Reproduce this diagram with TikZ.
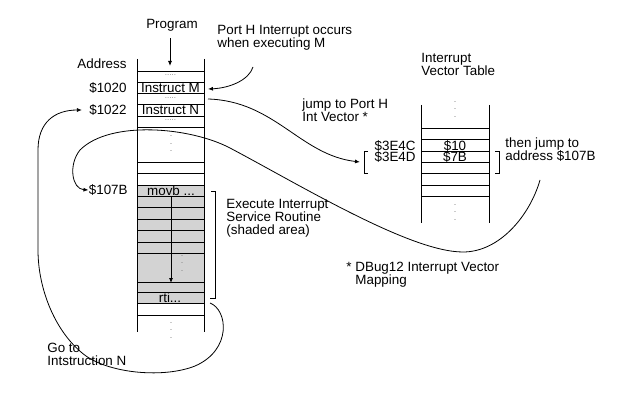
\documentclass[tikz,border=0pt]{standalone}
\usepackage{fontspec}
\setmainfont{Liberation Sans}
\usetikzlibrary{arrows.meta}
\definecolor{isrgray}{RGB}{211,211,211}

\begin{document}
\begin{tikzpicture}[x=1pt, y=-1pt, line width=0.8pt,
    txt/.style={font=\fontsize{13.4}{13}\selectfont, inner sep=0pt, align=left},
    pair/.style={font=\fontsize{13.4}{11}\selectfont, inner sep=0pt},
    rowdots/.style={font=\fontsize{8}{8}\selectfont, text=gray, inner sep=0pt, text height=1pt, text depth=0pt},
    coldots/.style={font=\fontsize{9}{7.5}\selectfont, text=gray, inner sep=0pt, align=center},
    tip/.style={-{Latex[length=5pt,width=4pt]}}]
    \useasboundingbox (0,0) rectangle (631,403);

    % Draw the program memory, shaded part is the service routine
    \fill[isrgray] (137,185) rectangle (204,303);
    \foreach \y in {71,82,93,104,116,127,162,173,185,196,207,219,230,242,253,282,292,303,315}
        \draw (137,\y) -- (204,\y);
    \draw (137,59) -- (137,332);
    \draw (204,59) -- (204,332);

    % Draw the vector table
    \foreach \y in {128,139,151,162,173,185,196}
        \draw (421,\y) -- (489,\y);
    \draw (421,105) -- (421,223);
    \draw (489,105) -- (489,223);

    % Column headings and addresses
    \node[txt] (prog) at (172,25) {Program};
    \node[txt, anchor=base east] (addr) at (127,68.5) {Address};
    \node[txt, anchor=base east] (a1020) at (127,92.5) {\$1020};
    \node[txt, anchor=base east] (a1022) at (127,114.5) {\$1022};
    \node[txt, anchor=base east] (a107b) at (128,194.5) {\$107B};
    \node[txt, anchor=base west] (ivt) at (421,75.5) {Interrupt\\Vector Table};

    % Contents of the memory rows
    \node[rowdots, anchor=base] (d1) at (170.5,76) {.....};
    \node[txt, anchor=base] (instm) at (170.5,92.5) {Instruct M};
    \node[rowdots, anchor=base] (d2) at (170.5,98.5) {.....};
    \node[txt, anchor=base] (instn) at (170.5,114.5) {Instruct N};
    \node[rowdots, anchor=base] (d3) at (170.5,121) {.....};
    \node[coldots] (v1) at (171,144) {.\\.\\.};
    \node[txt, anchor=base] (movb) at (171,195.5) {movb ...};
    \node[coldots] (v2) at (182,263.5) {.\\.\\.};
    \node[txt, anchor=base] (rti) at (170,302.5) {rti...};
    \node[coldots] (v3) at (171,330.5) {.\\.\\.};

    % Contents of the vector table
    \node[coldots] (v4) at (455,109.5) {.\\.\\.};
    \node[pair, anchor=base, align=center] (vec) at (455,161.5) {\$10\\\$7B};
    \node[coldots] (v5) at (455,212.5) {.\\.\\.};
    \node[pair, anchor=base east, align=right] (vaddr) at (416,161.5) {\$3E4C\\\$3E4D};

    % Brackets
    \draw (211,191) -- (215,191) -- (215,298) -- (210,298);
    \draw (368,151) -- (364,151) -- (364,173) -- (368,173);
    \draw (495,151) -- (499,151) -- (499,173) -- (495,173);

    % Notes
    \node[txt, anchor=base west] (porth) at (217,47.5) {Port H Interrupt occurs\\when executing M};
    \node[txt, anchor=base west] (jump) at (302,121.5) {jump to Port H\\Int Vector *};
    \node[txt, anchor=base west] (then) at (505,160.5) {then jump to\\address \$107B};
    \node[txt, anchor=base west] (isr) at (226,234.5) {Execute Interrupt\\Service Routine\\(shaded area)};
    \node[txt, anchor=base west] (note) at (355,284.5) {\llap{* }DBug12 Interrupt Vector\\Mapping};
    \node[txt, anchor=base west] (goto) at (47,365.5) {Go to\\Intstruction N};

    % Arrows
    \coordinate (progin) at (170,66);
    \coordinate (intsrc) at (253,67);
    \coordinate (rowm) at (208,89);
    \coordinate (rowmn) at (208,99);
    \coordinate (vecbr) at (360,162);
    \coordinate (addrsrc) at (540,180);
    \coordinate (flowtop) at (171,197);
    \coordinate (flowend) at (171,283);
    \coordinate (rtiout) at (210,303);

    \draw[tip] ([yshift=-7pt]prog.south -| progin) -- (progin);
    \draw[tip] (intsrc) .. controls (249,80) and (230,88) .. (rowm);
    \draw[tip] (rowmn) .. controls (275,101) and (300,155) .. (vecbr);
    \draw[tip] (flowtop) -- (flowend);
    \draw[tip] (addrsrc) .. controls (530,215) and (500,252) .. (463,252)
        .. controls (410,252) and (300,185) .. (230,148)
        .. controls (190,127) and (110,120) .. (80,150)
        .. controls (68,165) and (72,189) .. (a107b.west);
    \draw[tip] (rtiout) .. controls (228,310) and (232,350) .. (195,366)
        .. controls (165,378) and (112,374) .. (86,356)
        .. controls (56,334) and (38,290) .. (38,250) -- (38,150)
        .. controls (38,122) and (55,110) .. ([xshift=-7pt]a1022.west);
\end{tikzpicture}
\end{document}
